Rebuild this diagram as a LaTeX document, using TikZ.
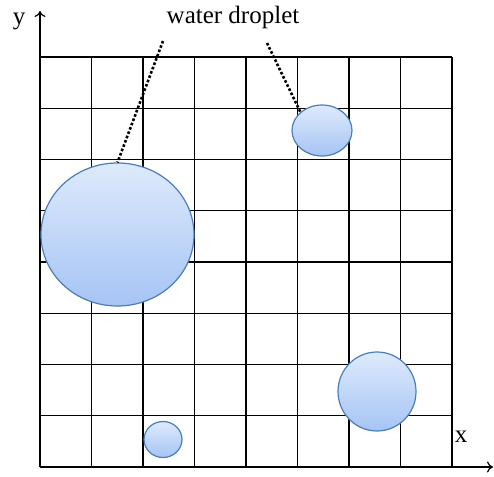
\documentclass[tikz,border=0pt]{standalone}
\usepackage{fontspec}
\setmainfont{Liberation Serif}
\usetikzlibrary{arrows.meta, calc, positioning, shapes.geometric}
\definecolor{dropedge}{RGB}{74, 126, 187}
\definecolor{droptop}{RGB}{222, 234, 252}
\definecolor{dropbot}{RGB}{166, 196, 244}

\begin{document}
\begin{tikzpicture}[x=1pt, y=-1pt,
		gridline/.style={black, line width=1.4pt},
		axis/.style={-{To[length=6pt, width=11pt]}, black, line width=1.2pt},
		drop/.style={ellipse, draw=dropedge, line width=1.2pt, inner sep=0pt,
			top color=droptop, bottom color=dropbot},
		lead/.style={dotted, line width=2.6pt, black},
		lbl/.style={font=\fontsize{25}{30}\selectfont, inner sep=0pt}]
	\useasboundingbox (0,0) rectangle (494,476);
	
	%--- grid 8x8 ---
	\foreach \i in {0,...,8}{
		\draw[gridline] (40+51.5*\i,57) -- (40+51.5*\i,467);
		\draw[gridline] (40,57+51.25*\i) -- (452,57+51.25*\i);
	}
	
	%--- axes ---
	\coordinate (origin) at (40,467);
	\coordinate (xend) at (493,467);
	\coordinate (yend) at (40,11);
	\draw[axis] (origin) -- (xend);
	\draw[axis] (origin) -- (yend);
	\node[lbl] (xlabel) at (461,437) {x};
	\node[lbl] (ylabel) at (19,21) {y};
	
	%--- droplets ---
	\node[drop, minimum width=153pt, minimum height=143pt] (bigdrop) at (117.5,234.5) {};
	\node[drop, minimum width=60pt, minimum height=51pt] (topdrop) at (322,130.5) {};
	\node[drop, minimum width=78pt, minimum height=79pt] (rightdrop) at (377,391.5) {};
	\node[drop, minimum width=38pt, minimum height=36pt] (smalldrop) at (163,439.5) {};
	
	%--- label with leaders ---
	\node[lbl] (droplabel) at (233,17) {water droplet};
	\coordinate (leadA) at (163,41);
	\coordinate (leadB) at (267,43);
	\draw[lead] (leadA) -- (bigdrop.north);
	\draw[lead] (leadB) -- (topdrop.north west);
\end{tikzpicture}
\end{document}
